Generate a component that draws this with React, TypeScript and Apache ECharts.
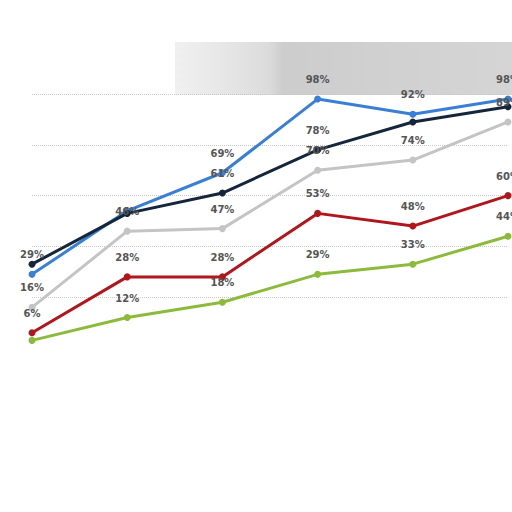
import { useEffect, useRef } from 'react'
import * as echarts from 'echarts'

const categories = ['1', '2', '3', '4', '5', '6']
const blueValues = [29, 54, 69, 98, 92, 98]
const navyValues = [33, 53, 61, 78, 89, 95]
const grayValues = [16, 46, 47, 70, 74, 89]
const redValues = [6, 28, 28, 53, 48, 60]
const greenValues = [3, 12, 18, 29, 33, 44]

// points whose label is not shown in the picture
const blueHidden = [1]
const navyHidden = [0, 1, 4, 5]
const grayHidden: number[] = []
const redHidden: number[] = []
const greenHidden = [0]

function toData(values: number[], hidden: number[]) {
  return values.map((v, i) =>
    hidden.includes(i) ? { value: v, label: { show: false } } : { value: v }
  )
}

function makeSeries(name: string, color: string, values: number[], hidden: number[]) {
  return {
    name,
    type: 'line' as const,
    data: toData(values, hidden),
    symbol: 'circle',
    symbolSize: 7,
    itemStyle: { color },
    lineStyle: { width: 3, color },
    label: {
      show: true,
      position: 'top' as const,
      distance: 11,
      formatter: '{c}%',
      color: '#555',
      fontSize: 10,
      fontWeight: 'bold' as const,
      fontFamily: 'DejaVu Sans, sans-serif'
    }
  }
}

export default function App() {
  const chartRef = useRef<HTMLDivElement>(null)

  useEffect(() => {
    if (!chartRef.current) return
    const chart = echarts.init(chartRef.current, undefined, { renderer: 'svg' })

    const option: echarts.EChartsOption = {
      animation: false,
      backgroundColor: '#fff',
      graphic: [
        {
          type: 'rect',
          z: -10,
          shape: { x: 175, y: 42, width: 337, height: 53 },
          style: {
            fill: new echarts.graphic.LinearGradient(0, 0, 1, 0, [
              { offset: 0, color: 'rgba(230,230,230,0.6)' },
              { offset: 0.28, color: 'rgba(215,215,215,0.9)' },
              { offset: 0.32, color: 'rgba(202,202,202,0.95)' },
              { offset: 1, color: 'rgba(208,208,208,0.9)' }
            ])
          }
        }
      ],
      grid: { left: 32, right: 4, top: 94, bottom: 164 },
      xAxis: {
        type: 'category',
        boundaryGap: false,
        data: categories,
        axisLine: { show: false },
        axisTick: { show: false },
        axisLabel: { show: false }
      },
      yAxis: {
        type: 'value',
        min: 0,
        max: 100,
        interval: 20,
        axisLabel: { show: false },
        axisLine: { show: false },
        splitLine: {
          showMinLine: false,
          lineStyle: { type: 'dotted', color: '#c8c8c8' }
        }
      },
      series: [
        makeSeries('green', '#8cbb3c', greenValues, greenHidden),
        makeSeries('red', '#b0161b', redValues, redHidden),
        makeSeries('gray', '#c4c4c4', grayValues, grayHidden),
        makeSeries('blue', '#3a7fd6', blueValues, blueHidden),
        makeSeries('navy', '#14263c', navyValues, navyHidden)
      ]
    }

    chart.setOption(option)
    return () => chart.dispose()
  }, [])

  return (
    <div
      ref={chartRef}
      style={{ position: 'fixed', left: 0, top: 0, width: 512, height: 512 }}
    />
  )
}
